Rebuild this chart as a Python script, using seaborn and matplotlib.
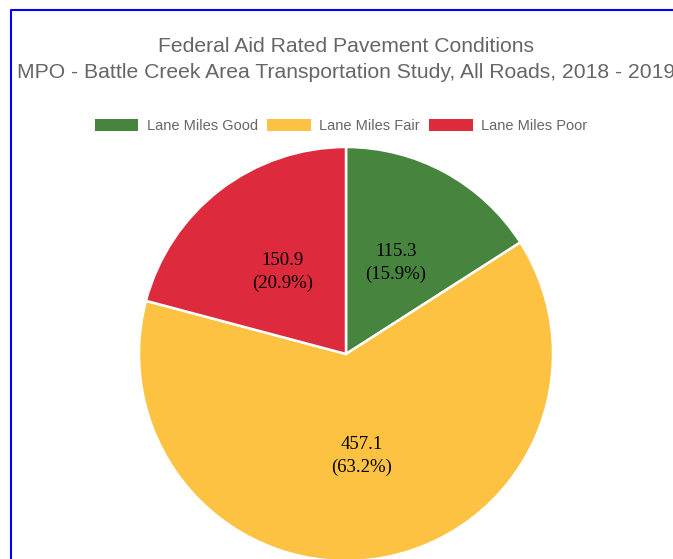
import seaborn as sns
import matplotlib.pyplot as plt
from matplotlib.patches import Patch
from matplotlib.lines import Line2D

sns.set_style("white")
plt.rcParams['font.family'] = ['Liberation Sans', 'DejaVu Sans']

# Data
categories = ['Lane Miles Good', 'Lane Miles Fair', 'Lane Miles Poor']
lane_miles = [115.3, 457.1, 150.9]
colors = ['#47853f', '#fdc241', '#dd2a3d']
title_lines = ["Federal Aid Rated Pavement Conditions",
               "MPO - Battle Creek Area Transportation Study, All Roads, 2018 - 2019"]

W, H = 673, 559
fig = plt.figure(figsize=(W / 100, H / 100), dpi=100)

# pie centre (346, 354) px, radius 207 px
cx, cy, r = 346, 354, 207
ax = fig.add_axes([(cx - r) / W, (H - cy - r) / H, 2 * r / W, 2 * r / H])

total = sum(lane_miles)
labels = [f"{v:.1f}\n({v / total * 100:.1f}%)" for v in lane_miles]

wedges, texts = ax.pie(lane_miles, colors=colors, startangle=90, counterclock=False,
                       labels=labels, labeldistance=0.5, radius=1,
                       wedgeprops=dict(edgecolor='white', linewidth=1.8))
for t in texts:
    t.set_family(['Liberation Serif', 'DejaVu Serif'])
    t.set_fontsize(13.5)
    t.set_color('black')
    t.set_ha('center')
    t.set_va('center')
    t.set_linespacing(1.45)
ax.set_xlim(-1, 1)
ax.set_ylim(-1, 1)
ax.set_aspect('equal')
ax.axis('off')

# Title (the reference's second line runs past the right edge as well)
fig.text(cx / W, 1 - 46 / H, title_lines[0], ha='center', va='center',
         fontsize=15.2, color='#666666')
fig.text(cx / W, 1 - 73 / H, title_lines[1], ha='center', va='center',
         fontsize=15.2, color='#666666')

# Legend
handles = [Patch(facecolor=c, edgecolor='none') for c in colors]
fig.legend(handles, categories, loc='center', bbox_to_anchor=(341 / W, 1 - 126 / H),
           ncol=3, frameon=False, fontsize=10.5, labelcolor='#666666',
           handlelength=3.0, handleheight=0.9, handletextpad=0.6, columnspacing=0.6)

# Blue frame (left and top)
fig.add_artist(Line2D([11 / W, 11 / W, 1.0], [0.0, 1 - 10 / H, 1 - 10 / H],
                      transform=fig.transFigure, color='#0000ff', linewidth=1.5))

plt.savefig("out.png", dpi=100)
plt.close()
